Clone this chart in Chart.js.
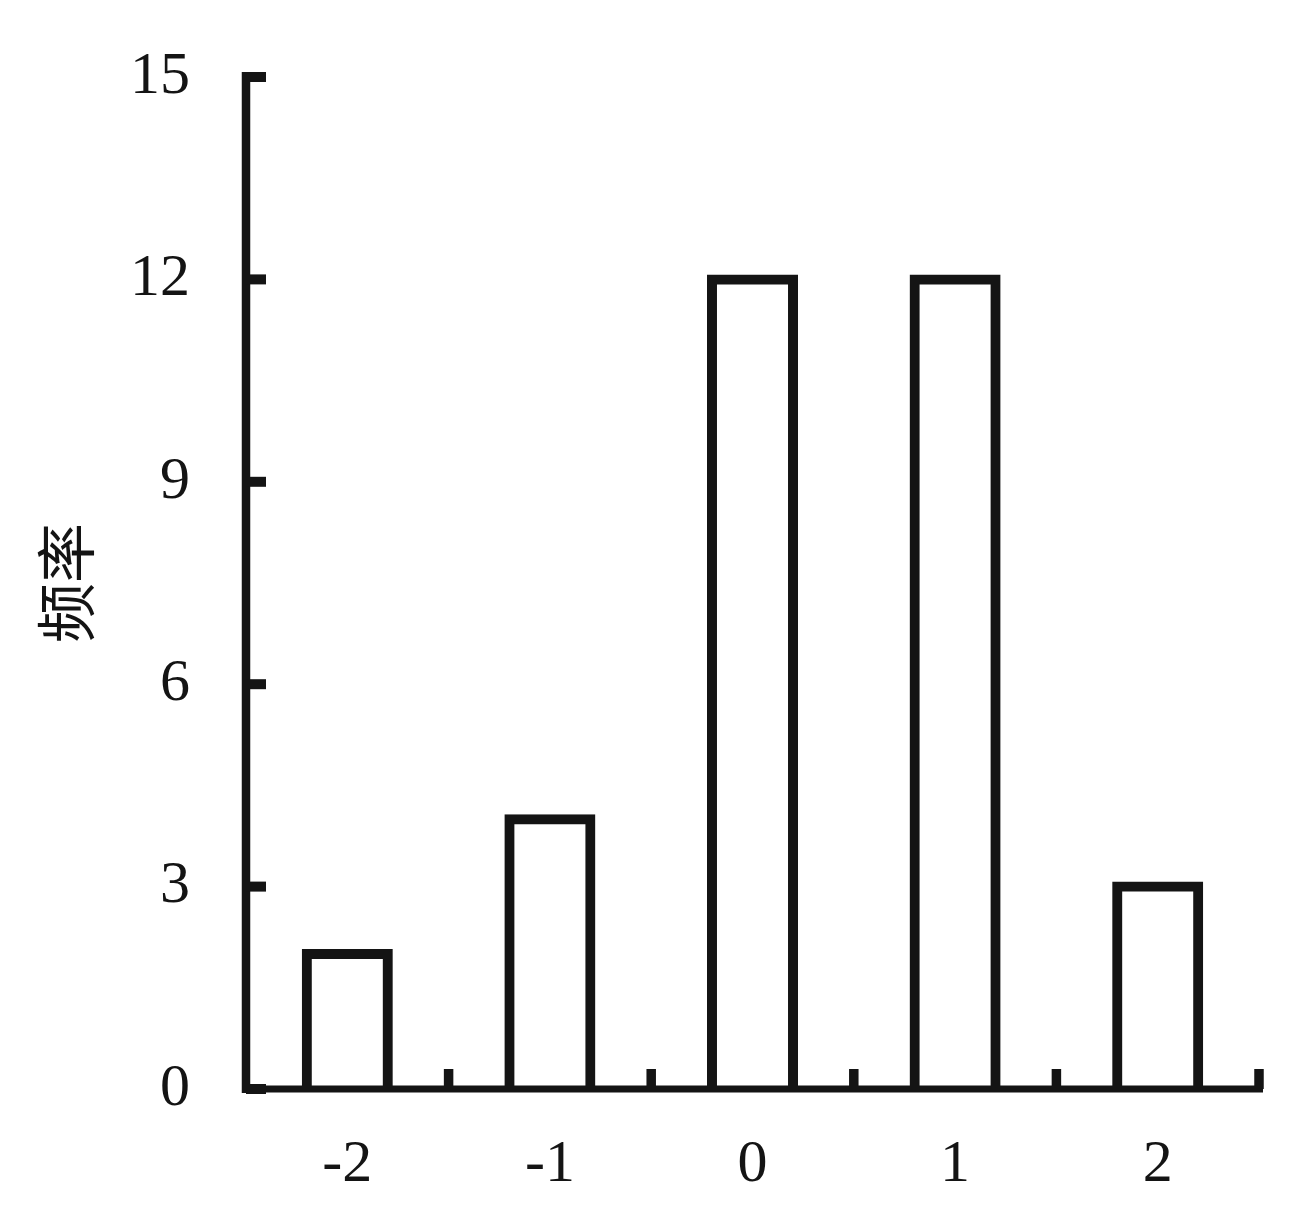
<!DOCTYPE html>
<html>
<head>
<meta charset="utf-8">
<script src="https://cdn.jsdelivr.net/npm/chart.js@4.4.1/dist/chart.umd.min.js"></script>
<style>
  html, body { margin: 0; padding: 0; background: #fff; }
</style>
</head>
<body>
<canvas id="freqChart" width="1306" height="1212"></canvas>
<script>
// data
const categories = ['-2', '-1', '0', '1', '2'];
const counts = [2, 4, 12, 12, 3];
const yMax = 15;
const yStep = 3;
const yTitle = '频率';

const ink = '#141414';
const numFont = "'Liberation Serif', 'Times New Roman', serif";

// axis lines + inward tick marks, drawn on top of the bars
const inwardAxes = {
    id: 'inwardAxes',
    afterDatasetsDraw(chart) {
        const {ctx, chartArea: a, scales: {x, y}} = chart;
        ctx.save();
        ctx.strokeStyle = ink;
        ctx.lineCap = 'butt';

        const lastX = x.getPixelForValue(categories.length - 0.5);

        ctx.lineWidth = 8.5;
        ctx.beginPath();
        ctx.moveTo(a.left, a.top - 5);
        ctx.lineTo(a.left, a.bottom + 4);
        ctx.stroke();

        ctx.lineWidth = 7;
        ctx.beginPath();
        ctx.moveTo(a.left - 4, a.bottom);
        ctx.lineTo(lastX + 4, a.bottom);
        ctx.stroke();

        ctx.lineWidth = 10;
        y.ticks.forEach(t => {
            const py = y.getPixelForValue(t.value);
            ctx.beginPath();
            ctx.moveTo(a.left, py);
            ctx.lineTo(a.left + 20, py);
            ctx.stroke();
        });

        ctx.lineWidth = 9.5;
        for (let i = 1; i <= categories.length; i++) {
            const px = x.getPixelForValue(i - 0.5);
            ctx.beginPath();
            ctx.moveTo(px, a.bottom);
            ctx.lineTo(px, a.bottom - 20);
            ctx.stroke();
        }
        ctx.restore();
    }
};

const chart = new Chart(document.getElementById('freqChart'), {
    type: 'bar',
    data: {
        labels: categories,
        datasets: [{
            data: counts,
            backgroundColor: '#ffffff',
            borderColor: ink,
            borderWidth: 10,
            inflateAmount: 5, // centre the outline on the value
            categoryPercentage: 1,
            barPercentage: 0.4
        }]
    },
    options: {
        responsive: false,
        animation: false,
        devicePixelRatio: 1,
        layout: { padding: { top: 77, right: 47, bottom: 0, left: 0 } },
        plugins: {
            legend: { display: false },
            tooltip: { enabled: false },
            title: { display: false }
        },
        scales: {
            x: {
                grid: { display: false, drawTicks: false },
                border: { display: false },
                ticks: {
                    color: ink,
                    padding: 40,
                    font: { family: numFont, size: 60 }
                },
                afterFit: s => {
                    s.height = 123;
                    s.paddingLeft = 0;
                    s.paddingRight = 0;
                }
            },
            y: {
                min: 0,
                max: yMax,
                grid: { display: false, drawTicks: false },
                border: { display: false },
                ticks: {
                    stepSize: yStep,
                    color: ink,
                    padding: 56,
                    font: { family: numFont, size: 60 }
                },
                title: {
                    display: true,
                    text: yTitle,
                    color: ink,
                    padding: { top: 30, bottom: 0 },
                    font: { family: "'Noto Sans CJK SC', sans-serif", size: 60 }
                },
                afterFit: s => {
                    s.width = 246;
                    s.paddingTop = 0;
                    s.paddingBottom = 0;
                }
            }
        }
    },
    plugins: [inwardAxes]
});
</script>
</body>
</html>
